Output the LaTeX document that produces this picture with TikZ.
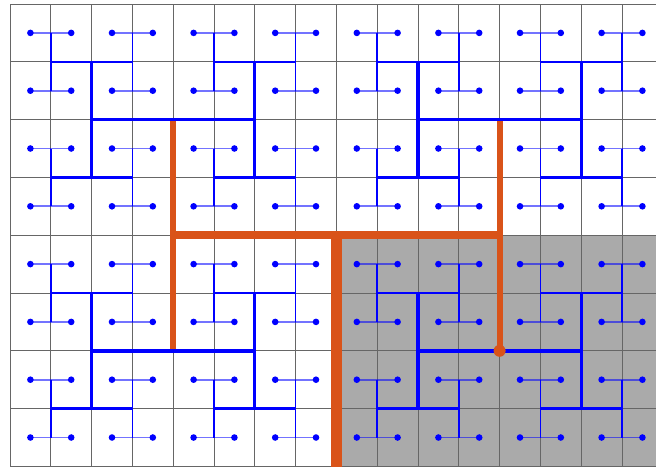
\documentclass[tikz,border=0pt]{standalone}
\definecolor{myorange}{HTML}{D95319}
\definecolor{shadegray}{HTML}{AAAAAA}
\tikzset{
  gridline/.style={draw=black!60, line width=0.5pt},
  lvzero/.style={draw=blue, draw opacity=0.55, line width=0.85pt},
  lvone/.style={draw=blue, line width=0.8pt},
  lvtwo/.style={draw=blue, line width=1.15pt},
  lvthree/.style={draw=blue, line width=1.55pt},
  lvfour/.style={draw=blue, line width=1.8pt},
  lvfive/.style={draw=myorange, line width=3pt},
  lvsix/.style={draw=myorange, line width=4pt},
  lvseven/.style={draw=myorange, line width=5.5pt},
  dotnode/.style={circle, fill=blue, inner sep=0pt, minimum size=3.3pt},
  rootdot/.style={circle, fill=myorange, inner sep=0pt, minimum size=6pt},
}
\begin{document}
\begin{tikzpicture}[x=0.5pt,y=-0.5pt]
\useasboundingbox (0,0) rectangle (656,466);
\clip (0,0) rectangle (656,466);
% grid intersection points
\foreach \i in {0,...,16}{
  \foreach \j in {0,...,12}{
    \coordinate (g-\i-\j) at ({10+40.8*\i},{4+57.8*\j});
  }
}
% cell centres
\foreach \i in {0,...,15}{
  \foreach \j in {0,...,7}{
    \coordinate (c-\i-\j) at ({30.4+40.8*\i},{32.9+57.8*\j});
  }
}
% midpoints of level-0 pairs
\foreach \k in {0,...,7}{
  \foreach \r in {0,...,7}{
    \coordinate (h-\k-\r) at ({10+40.8*(2*\k+1)},{32.9+57.8*\r});
  }
}
% shaded region
\fill[shadegray] (g-8-4) rectangle (g-16-8);
% grid
\foreach \i in {0,...,16}{ \draw[gridline] (g-\i-0) -- (g-\i-8); }
\foreach \j in {0,...,8}{ \draw[gridline] (g-0-\j) -- (g-16-\j); }
% orange levels
\draw[lvfive] (g-4-2) -- (g-4-6);
\draw[lvfive] (g-12-2) -- (g-12-6);
\draw[lvsix] (g-4-4) -- (g-12-4);
\draw[lvseven] (g-8-4) -- (g-8-12);
% level 1
\foreach \k in {0,...,7}{
  \foreach \m in {0,...,3}{
    \pgfmathtruncatemacro{\ra}{2*\m}
    \pgfmathtruncatemacro{\rb}{2*\m+1}
    \draw[lvone] (h-\k-\ra) -- (h-\k-\rb);
  }
}
% level 2
\foreach \n in {0,...,3}{
  \foreach \m in {0,...,3}{
    \pgfmathtruncatemacro{\xa}{4*\n+1}
    \pgfmathtruncatemacro{\xb}{4*\n+3}
    \pgfmathtruncatemacro{\yy}{2*\m+1}
    \draw[lvtwo] (g-\xa-\yy) -- (g-\xb-\yy);
  }
}
% level 3
\foreach \n in {0,...,3}{
  \foreach \p in {0,1}{
    \pgfmathtruncatemacro{\xx}{4*\n+2}
    \pgfmathtruncatemacro{\ya}{4*\p+1}
    \pgfmathtruncatemacro{\yb}{4*\p+3}
    \draw[lvthree] (g-\xx-\ya) -- (g-\xx-\yb);
  }
}
% level 4
\foreach \q in {0,1}{
  \foreach \p in {0,1}{
    \pgfmathtruncatemacro{\xa}{8*\q+2}
    \pgfmathtruncatemacro{\xb}{8*\q+6}
    \pgfmathtruncatemacro{\yy}{4*\p+2}
    \draw[lvfour] (g-\xa-\yy) -- (g-\xb-\yy);
  }
}
% level 0 pairs and dots
\foreach \k in {0,...,7}{
  \foreach \r in {0,...,7}{
    \pgfmathtruncatemacro{\ca}{2*\k}
    \pgfmathtruncatemacro{\cb}{2*\k+1}
    \draw[lvzero] (c-\ca-\r) -- (c-\cb-\r);
  }
}
\foreach \i in {0,...,15}{
  \foreach \j in {0,...,7}{
    \node[dotnode] (d-\i-\j) at (c-\i-\j) {};
  }
}
\node[rootdot] (root) at (g-12-6) {};
\end{tikzpicture}
\end{document}
